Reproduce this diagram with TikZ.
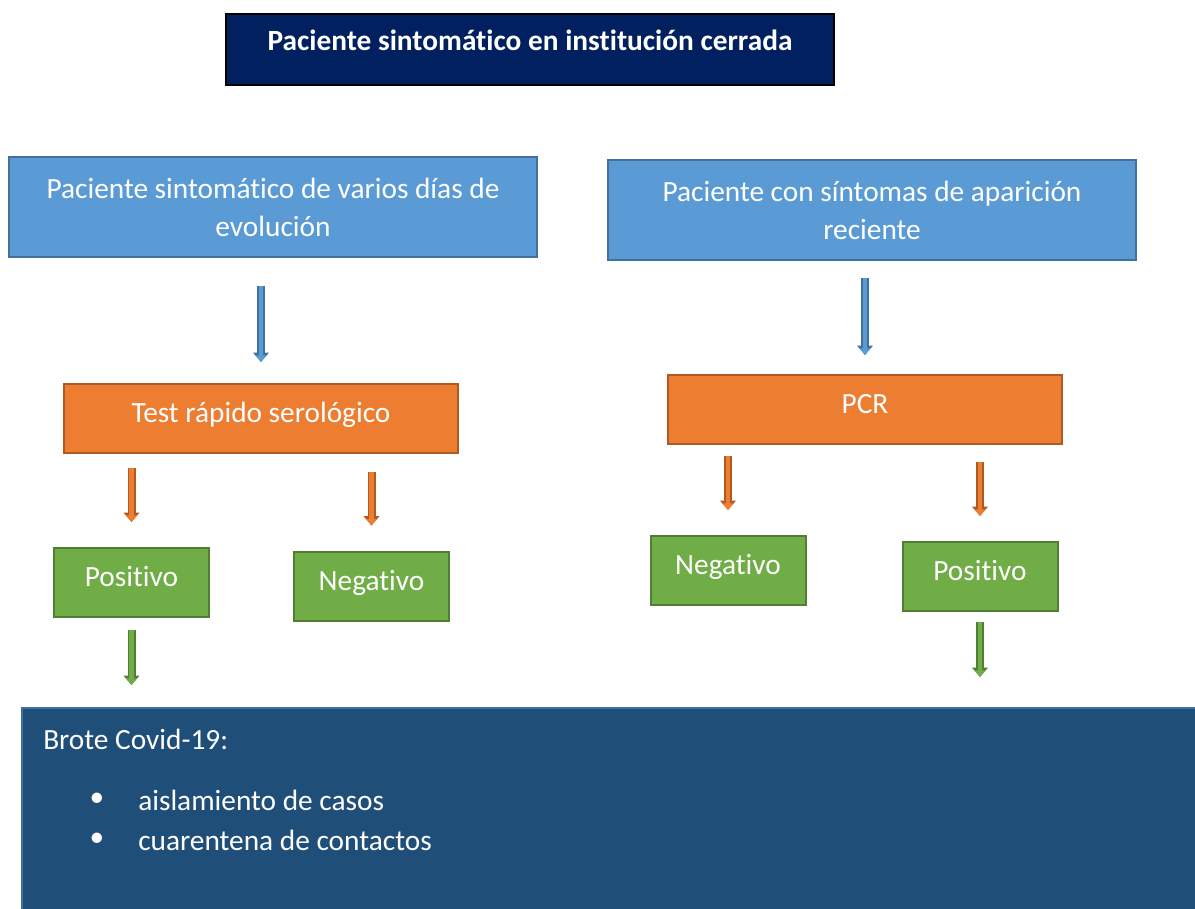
\documentclass[tikz,border=0pt]{standalone}
\usepackage{fontspec}
\setmainfont[Ligatures=NoCommon]{Carlito}
\usetikzlibrary{arrows.meta}

\definecolor{marino}{HTML}{002060}
\definecolor{azul}{HTML}{5B9BD5}
\definecolor{azulborde}{HTML}{41719C}
\definecolor{naranja}{HTML}{ED7D31}
\definecolor{naranjaborde}{HTML}{AE5A21}
\definecolor{verde}{HTML}{70AD47}
\definecolor{verdeborde}{HTML}{507E32}
\definecolor{brotefondo}{HTML}{1F4E79}

\begin{document}
\begin{tikzpicture}[x=0.75pt,y=-0.75pt,font=\fontsize{22}{28.5}\selectfont,
    caja/.style={draw,line width=1.5pt,align=center,text=white,inner sep=0pt},
    linea/.style={text height=15pt,text depth=9pt},
    flecha/.style 2 args={draw=#1,line width=3.5pt,-{Triangle[width=8pt,length=5pt]},
        preaction={draw=#2,line width=6pt,-{Triangle[width=11.5pt,length=7pt]}}}]
    \useasboundingbox (0,0) rectangle (1195,908);

    \node[caja,fill=marino,draw=black,minimum width=456pt,minimum height=53.25pt,text depth=14pt,font=\fontsize{22}{26}\selectfont\bfseries] (titulo) at (530,49.5) {Paciente sintomático en institución cerrada};

    \node[caja,fill=azul,draw=azulborde,minimum width=396pt,minimum height=75pt] (dias) at (273,207) {Paciente sintomático de varios días de\\evolución};
    \node[caja,fill=azul,draw=azulborde,minimum width=396pt,minimum height=75pt] (reciente) at (872,210) {Paciente con síntomas de aparición\\reciente};

    \node[caja,linea,fill=naranja,draw=naranjaborde,minimum width=295.5pt,minimum height=51.75pt] (test) at (261,418.5) {Test rápido serológico};
    \node[caja,linea,fill=naranja,draw=naranjaborde,minimum width=295.5pt,minimum height=51.75pt] (pcr) at (865,409.5) {PCR};

    \foreach \name/\label/\x/\y in {posA/Positivo/131.5/582.5, negA/Negativo/371.5/586, negB/Negativo/728/570.5, posB/Positivo/980/576.5} {
        \node[caja,linea,fill=verde,draw=verdeborde,minimum width=116.25pt,minimum height=51.75pt] (\name) at (\x,\y) {\label};
    }

    \node[caja,fill=brotefondo,draw=azulborde,anchor=north west,minimum width=900pt,minimum height=165pt] (brote) at (21,707) {};
    \node[text=white,anchor=west,inner sep=0pt] (brotetit) at (43,739) {Brote Covid-19:};
    \node[text=white] (bala1) at (97,800) {\textbullet};
    \node[text=white,anchor=west,inner sep=0pt] (item1) at (138,800) {aislamiento de casos};
    \node[text=white] (bala2) at (97,840) {\textbullet};
    \node[text=white,anchor=west,inner sep=0pt] (item2) at (138,840) {cuarentena de contactos};

    % flechas
    \draw[flecha={azul}{azulborde},shorten <=21pt,shorten >=15.75pt] (test.north |- dias.south) -- (test.north);
    \draw[flecha={azul}{azulborde},shorten <=12.75pt,shorten >=14.25pt] (pcr.north |- reciente.south) -- (pcr.north);
    \foreach \from/\to/\s/\e in {test/posA/10.5/18.75, test/negA/13.5/18.75, pcr/negB/8.25/18.75, pcr/posB/12.75/18.75} {
        \draw[flecha={naranja}{naranjaborde},shorten <=\s pt,shorten >=\e pt] (\to.north |- \from.south) -- (\to.north);
    }
    \draw[flecha={verde}{verdeborde},shorten <=9pt,shorten >=16.5pt] (posA.south) -- (posA.south |- brote.north);
    \draw[flecha={verde}{verdeborde},shorten <=7.5pt,shorten >=22.5pt] (posB.south) -- (posB.south |- brote.north);
\end{tikzpicture}
\end{document}
